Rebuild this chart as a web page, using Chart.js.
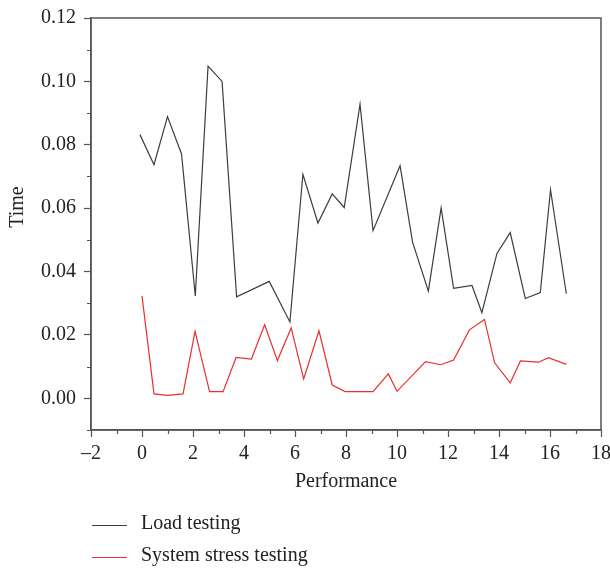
<!DOCTYPE html>
<html>
<head>
<meta charset="utf-8">
<script src="https://cdn.jsdelivr.net/npm/chart.js@4"></script>
<style>
  html, body { margin: 0; padding: 0; background: #fff; }
  canvas { display: block; }
</style>
</head>
<body>
<canvas id="chart" width="610" height="569"></canvas>
<script>
// values
const loadX = [-0.08, 0.47, 1.0, 1.55, 2.09, 2.59, 3.14, 3.71, 4.99, 5.8, 6.31, 6.9, 7.46, 7.93,
  8.55, 9.06, 10.12, 10.61, 11.23, 11.73, 12.22, 12.94, 13.33, 13.92, 14.44, 15.03, 15.62, 16.02, 16.64];
const loadY = [0.0832, 0.0737, 0.0889, 0.0771, 0.0323, 0.1048, 0.1, 0.032, 0.0369, 0.0241, 0.0707,
  0.0553, 0.0645, 0.0602, 0.0928, 0.0529, 0.0734, 0.0493, 0.0338, 0.0601, 0.0347, 0.0356, 0.027,
  0.0457, 0.0523, 0.0315, 0.0334, 0.0658, 0.033];

const stressX = [0, 0.47, 1.0, 1.61, 2.08, 2.65, 3.18, 3.69, 4.29, 4.81, 5.31, 5.85, 6.34, 6.94,
  7.46, 7.97, 9.06, 9.66, 10.0, 11.12, 11.71, 12.22, 12.84, 13.43, 13.83, 14.44, 14.84, 15.55, 15.94, 16.64];
const stressY = [0.0323, 0.0014, 0.0009, 0.0014, 0.0211, 0.0021, 0.0021, 0.0129, 0.0124, 0.0232,
  0.0119, 0.0222, 0.0061, 0.0213, 0.0042, 0.0021, 0.0021, 0.0077, 0.0022, 0.0116, 0.0106, 0.0121,
  0.0216, 0.0249, 0.0112, 0.0049, 0.0118, 0.0114, 0.0128, 0.0107];

const seriesNames = ["Load testing", "System stress testing"];
const seriesColors = ["#3d3d3d", "#e8302e"];

const xMajor = [-2, 0, 2, 4, 6, 8, 10, 12, 14, 16, 18];
const xMinor = [-1, 1, 3, 5, 7, 9, 11, 13, 15, 17];
const yMajor = [0, 0.02, 0.04, 0.06, 0.08, 0.1, 0.12];
const yMinor = [-0.01, 0.01, 0.03, 0.05, 0.07, 0.09, 0.11];

const FONT = "'Liberation Serif', 'DejaVu Serif', serif";
const FSIZE = 20;
const AXIS = "#555555";
const TEXT = "#222222";

function points(xs, ys) {
    return xs.map((x, i) => ({ x, y: ys[i] }));
}

// box, minor ticks, rotated y title and the stacked legend
const extras = {
    id: "extras",
    afterDraw(chart) {
        const { ctx, chartArea: a, scales } = chart;
        ctx.save();
        ctx.strokeStyle = AXIS;
        ctx.lineWidth = 1.5;
        ctx.strokeRect(a.left, a.top, a.right - a.left, a.bottom - a.top);

        ctx.lineWidth = 1.2;
        ctx.beginPath();
        for (const v of xMinor) {
            const px = Math.round(scales.x.getPixelForValue(v)) + 0.5;
            ctx.moveTo(px, a.bottom);
            ctx.lineTo(px, a.bottom + 4);
        }
        for (const v of yMinor) {
            const py = Math.round(scales.y.getPixelForValue(v)) + 0.5;
            ctx.moveTo(a.left, py);
            ctx.lineTo(a.left - 4, py);
        }
        ctx.stroke();

        ctx.fillStyle = TEXT;
        ctx.font = FSIZE + "px " + FONT;
        ctx.textAlign = "center";
        ctx.textBaseline = "middle";
        ctx.save();
        ctx.translate(18, 207);
        ctx.rotate(-Math.PI / 2);
        ctx.fillText("Time", 0, 0);
        ctx.restore();

        ctx.textAlign = "left";
        chart.data.datasets.forEach((ds, i) => {
            const y = 524 + i * 32;
            ctx.strokeStyle = ds.borderColor;
            ctx.lineWidth = 1.2;
            ctx.beginPath();
            ctx.moveTo(92, y + 1.5);
            ctx.lineTo(127, y + 1.5);
            ctx.stroke();
            ctx.fillStyle = TEXT;
            ctx.fillText(ds.label, 141, y);
        });
        ctx.restore();
    }
};

new Chart(document.getElementById("chart"), {
    type: "scatter",
    data: {
        datasets: [
            {
                label: seriesNames[0],
                data: points(loadX, loadY),
                borderColor: seriesColors[0],
                showLine: true,
            },
            {
                label: seriesNames[1],
                data: points(stressX, stressY),
                borderColor: seriesColors[1],
                showLine: true,
            },
        ]
    },
    options: {
        responsive: false,
        animation: false,
        devicePixelRatio: 1,
        layout: { padding: { left: 0, right: 9, top: 18, bottom: 69 } },
        elements: {
            point: { radius: 0, hoverRadius: 0 },
            line: { borderWidth: 1.2, tension: 0 },
        },
        plugins: {
            legend: { display: false },
            tooltip: { enabled: false },
        },
        scales: {
            x: {
                type: "linear",
                min: -2,
                max: 18,
                afterBuildTicks: (scale) => { scale.ticks = xMajor.map(value => ({ value })); },
                afterFit: (scale) => {
                    scale.height = 70;
                    scale.paddingLeft = 0;
                    scale.paddingRight = 0;
                },
                grid: { drawOnChartArea: false, tickLength: 7, tickColor: AXIS, tickWidth: 1.2 },
                border: { color: AXIS, width: 1.5 },
                ticks: {
                    padding: 5,
                    color: TEXT,
                    font: { family: FONT, size: FSIZE },
                    callback: (v) => v < 0 ? "\u2013" + Math.abs(v) : String(v),
                },
                title: {
                    display: true,
                    text: "Performance",
                    color: TEXT,
                    font: { family: FONT, size: FSIZE },
                    padding: { top: 0, bottom: 6 },
                },
            },
            y: {
                type: "linear",
                min: -0.01,
                max: 0.12,
                afterBuildTicks: (scale) => { scale.ticks = yMajor.map(value => ({ value })); },
                afterFit: (scale) => {
                    scale.width = 91;
                    scale.paddingTop = 0;
                    scale.paddingBottom = 0;
                },
                grid: { drawOnChartArea: false, tickLength: 7, tickColor: AXIS, tickWidth: 1.2 },
                border: { color: AXIS, width: 1.5 },
                ticks: {
                    padding: 8,
                    color: TEXT,
                    font: { family: FONT, size: FSIZE },
                    callback: (v) => Number(v).toFixed(2),
                },
            },
        },
    },
    plugins: [extras],
});
</script>
</body>
</html>
